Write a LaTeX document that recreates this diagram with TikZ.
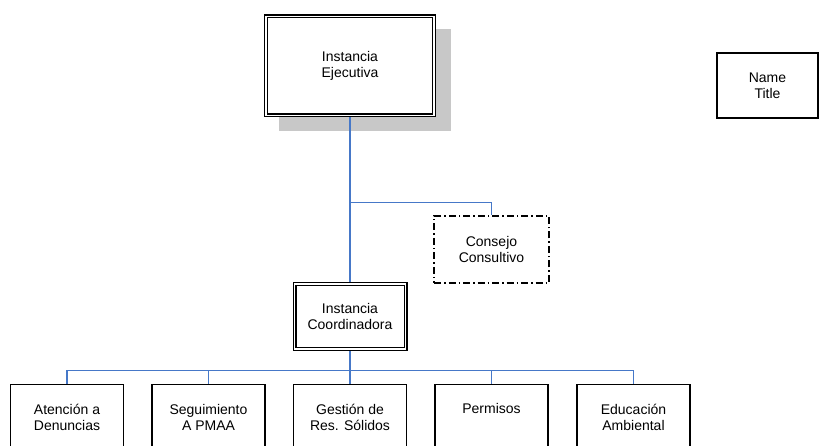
\documentclass[tikz,border=0pt]{standalone}
\usepackage{fontspec}
\setmainfont{Liberation Sans}
\definecolor{conn}{RGB}{70,120,200}
\definecolor{shad}{RGB}{200,200,200}
\begin{document}
\begin{tikzpicture}[x=1pt,y=-1pt,
  txt/.style={font=\fontsize{14}{16.3}\selectfont, align=center},
  plainbox/.style={draw=black, line width=1.1pt, fill=white, rectangle, inner sep=0pt, txt},
  dblbox/.style={draw=black, line width=1.1pt, double=white, double distance=1.8pt, fill=white, rectangle, inner sep=0pt, outer sep=2pt, txt},
  dashbox/.style={draw=black, line width=1.1pt, dash pattern=on 7pt off 3pt on 1.5pt off 3pt, fill=white, rectangle, inner sep=0pt, txt},
  conline/.style={draw=conn, line width=1.1pt}]
\useasboundingbox (0,0) rectangle (819,446);
\clip (0,0) rectangle (819,446);
\fill[shad] (279,29) rectangle (451,131);
\node[dblbox, minimum width=168, minimum height=99] (ejec) at (350,66) {Instancia\\Ejecutiva};
\node[plainbox, minimum width=101, minimum height=65] (name) at (767.5,85.5) {Name\\Title};
\node[dashbox, minimum width=115, minimum height=67] (cons) at (491.5,249.5) {Consejo\\Consultivo};
\node[dblbox, minimum width=111, minimum height=65] (coord) at (350,316.5) {Instancia\\Coordinadora};
\foreach \i/\x in {1/67,2/208.5,3/350,4/491.5,5/633.5}{
  \node[plainbox, minimum width=113, minimum height=70, anchor=north] (b\i) at (\x,384) {};
}
\node[txt] (b1t) at (67,417.5) {Atención a\\Denuncias};
\node[txt] (b2t) at (208.5,417.5) {Seguimiento\\A PMAA};
\node[txt] (b3t) at (350,417.5) {Gestión de\\Res. Sólidos};
\node[txt] (b4t) at (491.5,408.5) {Permisos};
\node[txt] (b5t) at (633.5,417.5) {Educación\\Ambiental};
\coordinate (br) at (350,202.5);
\coordinate (bus) at (350,370.5);
\draw[conline] (ejec.south) -- (coord.north);
\draw[conline] (br) -| (cons.north);
\foreach \i in {1,...,5}{
  \draw[conline] (coord.south) -- (bus) -| (b\i.north);
}
\end{tikzpicture}
\end{document}
